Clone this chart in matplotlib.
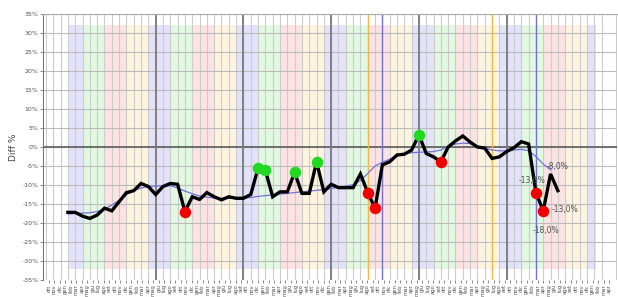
import numpy as np
import matplotlib.pyplot as plt

# month names for the x labels (series starts in October)
month_names = ['ott', 'nov', 'dic', 'gen', 'feb', 'mar', 'apr', 'mag', 'giu', 'lug', 'ago', 'set']
n_months = 78
n_labels = 103

first_month = 3
diff_pct = [-17.2, -17.2, -18.2, -18.8, -17.9, -16.1, -16.8, -14.4, -12.0, -11.5,
            -9.6, -10.4, -12.5, -10.4, -9.6, -9.8, -17.0, -13.1, -13.8, -12.0,
            -13.1, -13.9, -13.1, -13.5, -13.5, -12.5, -5.6, -6.1, -13.1, -11.8,
            -11.8, -6.7, -12.2, -12.2, -3.9, -11.8, -9.8, -10.7, -10.7, -10.7,
            -7.1, -12.0, -16.1, -4.7, -3.9, -2.1, -1.9, -0.8, 3.2, -1.7,
            -2.6, -3.9, 0.0, 1.6, 2.9, 1.3, 0.0, -0.3, -3.0, -2.6,
            -1.2, -0.2, 1.4, 0.8, -12.0, -16.8, -7.1, -11.5]
trend_pct = [-17.6, -17.5, -17.4, -17.3, -17.0, -16.3, -15.3, -14.0, -12.6, -11.5,
             -10.8, -10.4, -10.3, -10.2, -10.2, -10.8, -11.6, -12.3, -12.9, -13.2,
             -13.4, -13.5, -13.5, -13.5, -13.4, -13.3, -13.0, -12.8, -12.6, -12.4,
             -12.2, -12.0, -11.8, -11.6, -11.4, -11.2, -10.9, -10.6, -10.3, -9.9,
             -8.8, -7.0, -5.0, -4.0, -3.2, -2.4, -1.8, -1.5, -1.4, -1.3,
             -1.2, -0.8, 0.2, 0.8, 1.0, 0.9, 0.3, -0.3, -0.8, -1.0,
             -1.0, -0.8, -0.6, -1.0, -2.5, -4.5, -6.0]

red_months = [19, 44, 45, 54, 67, 68]
green_months = [29, 30, 34, 37, 51]

# seasonal background bands: (start month, end month, season)
bands = [(3, 5, 'inv'), (5, 8, 'pri'), (8, 11, 'est'), (11, 14, 'aut'),
         (14, 17, 'inv'), (17, 20, 'pri'), (20, 23, 'est'), (23, 26, 'aut'),
         (26, 29, 'inv'), (29, 32, 'pri'), (32, 35, 'est'), (35, 38, 'aut'),
         (38, 41, 'inv'), (41, 44, 'pri'), (44, 47, 'est'), (47, 50, 'aut'),
         (50, 53, 'inv'), (53, 56, 'pri'), (56, 59, 'est'), (59, 62, 'aut'),
         (62, 65, 'inv'), (65, 68, 'pri'), (68, 71, 'est'), (71, 74, 'aut'),
         (74, 75.2, 'inv')]
season_colors = {'inv': '#e2e2fa', 'pri': '#e1f8e1', 'est': '#fce3e3', 'aut': '#fdf4e0'}

year_lines = [15, 27, 39, 51, 63]
orange_lines = [44, 61]
blue_lines = [46, 67]

annotations = [('-8,0%', 68.5, -5.1), ('-13,0%', 64.6, -8.9),
               ('-13,0%', 69.2, -16.5), ('-18,0%', 66.6, -22.1)]

fig = plt.figure(figsize=(6.18, 2.97), dpi=100)
ax = fig.add_axes([42.7 / 618, 17 / 297, 574.4 / 618, 266 / 297])
ax.set_xlim(-0.45, 78.1)
ax.set_ylim(-35, 35)

for start, end, season in bands:
    ax.axvspan(start, end, ymin=3 / 70, ymax=67 / 70, color=season_colors[season], lw=0, zorder=0)

# grid
ax.set_xticks(np.arange(0, n_months + 1), minor=True)
ax.grid(True, which='minor', axis='x', color='#cccccc', lw=0.8, zorder=1)
ax.set_yticks(np.arange(-35, 36, 5))
ax.grid(True, which='major', axis='y', color='#bbbbbb', lw=0.8, zorder=1)
ax.set_axisbelow(True)
ax.axhline(0, color='#666666', lw=1.3, zorder=2)

for m in year_lines:
    ax.axvline(m, color='#7a7a7a', lw=1.3, zorder=2)
for m in orange_lines:
    ax.axvline(m, color='#f2b84a', lw=1.0, zorder=2)
for m in blue_lines:
    ax.axvline(m, color='#7373d6', lw=1.0, zorder=2)

x_diff = np.arange(first_month, first_month + len(diff_pct))
x_trend = np.arange(first_month, first_month + len(trend_pct))
ax.plot(x_trend, trend_pct, color='#7272d8', lw=0.9, zorder=3)
ax.plot(x_diff, diff_pct, color='black', lw=2.4, zorder=4, solid_joinstyle='miter')

diff_by_month = dict(zip(x_diff, diff_pct))
ax.plot(red_months, [diff_by_month[m] for m in red_months], 'o', color='#f00000',
        ms=8.3, mec='none', zorder=5)
ax.plot(green_months, [diff_by_month[m] for m in green_months], 'o', color='#22d822',
        ms=8.3, mec='none', zorder=5)

for label, mx, my in annotations:
    ax.text(mx, my, label, fontsize=5.5, color='#505050', ha='left', va='center', zorder=6)

# axis labels
ax.set_yticklabels([f'{v}%' for v in range(-35, 36, 5)], fontsize=4.5, color='#555555')
label_pos = np.linspace(0.41, 77.0, n_labels)
ax.set_xticks(label_pos)
ax.set_xticklabels([month_names[k % 12] for k in range(n_labels)], rotation=90,
                   fontsize=3.8, color='#555555')
ax.tick_params(axis='both', which='major', length=2, width=0.6, color='#777777', pad=1)
ax.tick_params(axis='x', which='minor', length=0)
ax.set_ylabel('Diff %', fontsize=6.5, color='#444444', labelpad=3)

for side in ['right', 'bottom']:
    ax.spines[side].set_visible(False)
ax.spines['left'].set_color('#777777')
ax.spines['top'].set_color('#aaaaaa')
ax.spines['left'].set_linewidth(0.8)
ax.spines['top'].set_linewidth(0.8)

fig.savefig('out.png', dpi=100)
